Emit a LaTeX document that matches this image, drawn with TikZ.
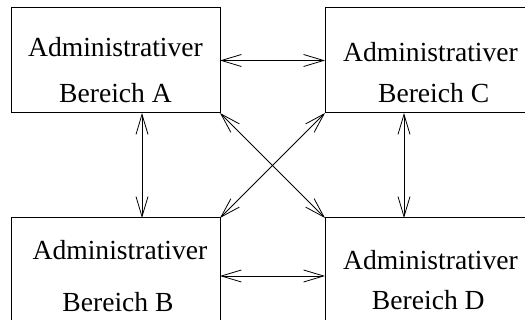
\documentclass[tikz,border=0pt]{standalone}
\usepackage{fontspec}
\setmainfont{Liberation Serif}
\usetikzlibrary{arrows.meta}
\begin{document}
\begin{tikzpicture}[x=1pt,y=-1pt,
  area/.style={draw,line width=1pt,minimum width=209pt,minimum height=105pt,inner sep=0pt,outer sep=0pt},
  caption/.style={anchor=base,inner sep=0pt,font=\fontsize{27.6}{30}\selectfont},
  link/.style={line width=0.8pt,{Straight Barb[length=20pt,width=12pt]}-{Straight Barb[length=20pt,width=12pt]}}]
\useasboundingbox (0,0) rectangle (525,320);
\clip (0,0) rectangle (525,320);
% the four administrative areas
\node[area] (A) at (115.5,60.5) {};
\node[area] (C) at (429.5,60.5) {};
\node[area] (B) at (115.5,270.5) {};
\node[area] (D) at (429.5,270.5) {};
% their labels
\node[caption] (A1) at (115.5,56.7) {Administrativer};
\node[caption] (A2) at (115.5,102.7) {Bereich A};
\node[caption] (C1) at (430.5,61.7) {Administrativer};
\node[caption] (C2) at (433.7,102.7) {Bereich C};
\node[caption] (B1) at (120,260) {Administrativer};
\node[caption] (B2) at (118,311.7) {Bereich B};
\node[caption] (D1) at (430.5,270) {Administrativer};
\node[caption] (D2) at (428.3,310) {Bereich D};
% connections between the areas
\draw[link] (A.east) -- (C.west);
\draw[link] ([yshift=-5.5pt]B.east) -- ([yshift=-5.5pt]D.west);
\draw[link] ([xshift=26.5pt]A.south) -- ([xshift=26.5pt]B.north);
\draw[link] ([xshift=-25.5pt]C.south) -- ([xshift=-25.5pt]D.north);
\draw[link] (A.south east) -- (D.north west);
\draw[link] (C.south west) -- (B.north east);
\end{tikzpicture}
\end{document}
